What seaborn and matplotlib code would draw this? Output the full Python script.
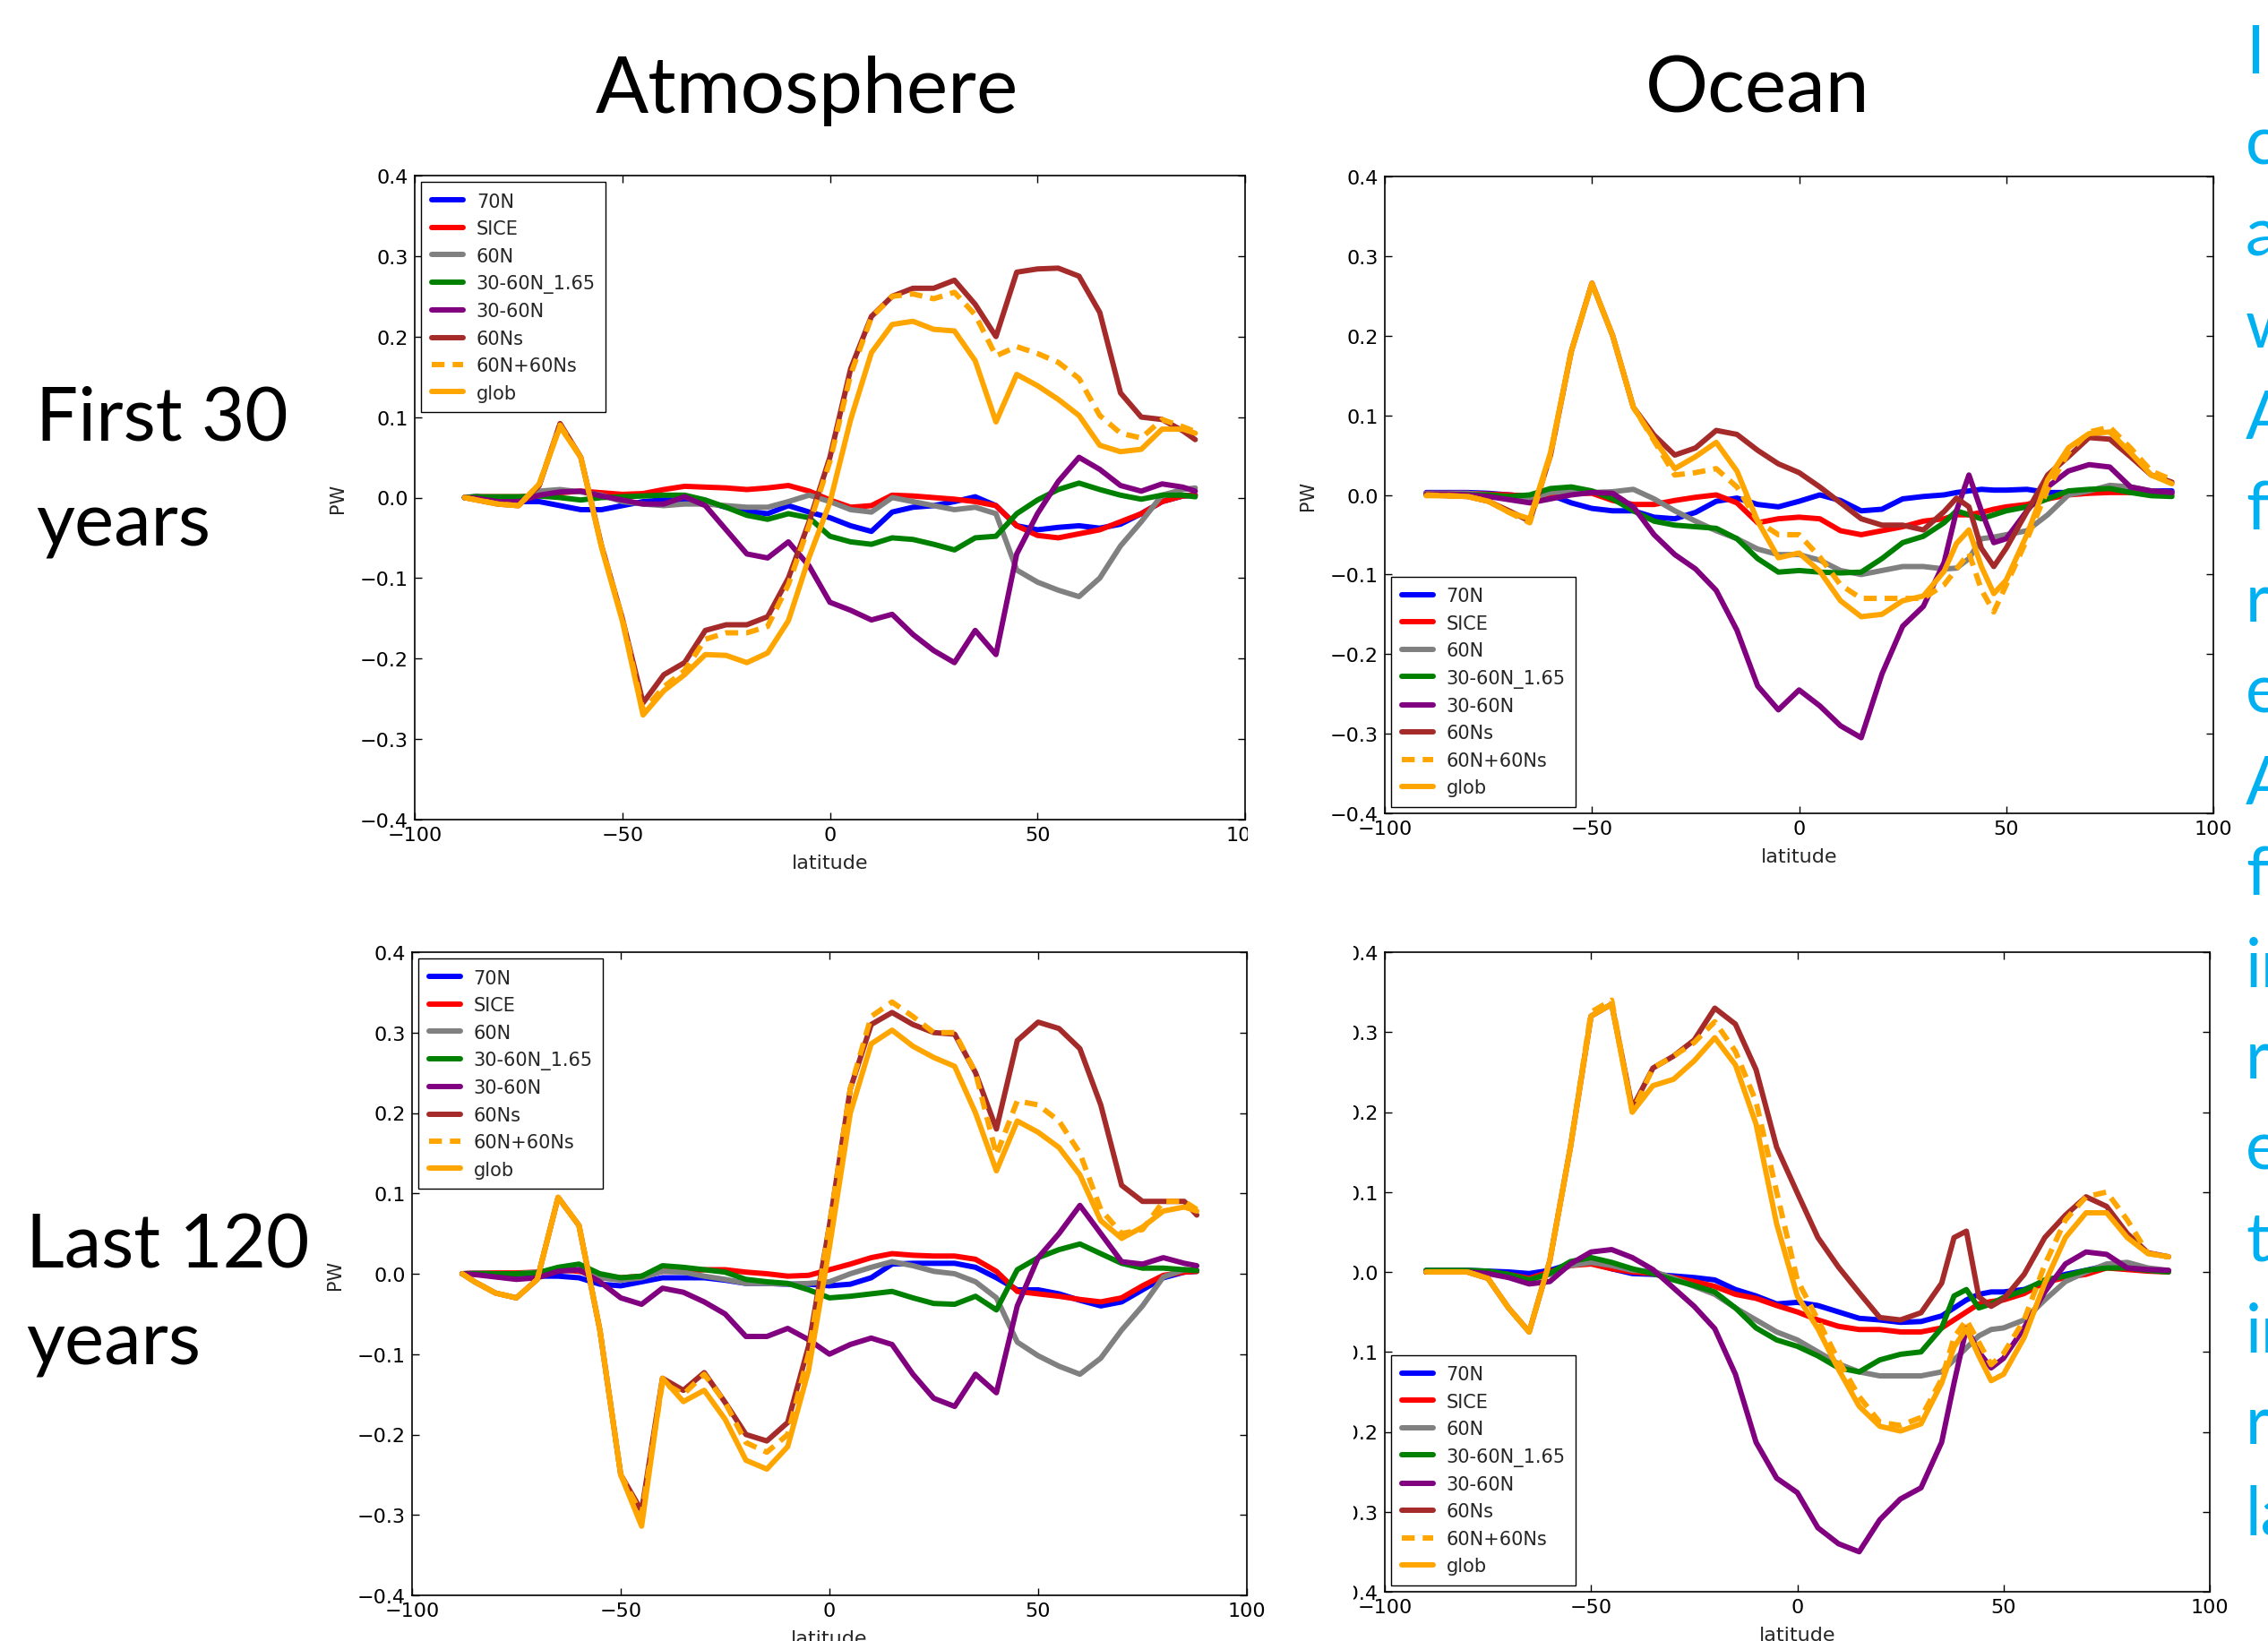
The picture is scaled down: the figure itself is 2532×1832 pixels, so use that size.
import matplotlib.pyplot as plt
from matplotlib.patches import Rectangle
import pandas as pd
import seaborn as sns

# Latitude grids (degrees)
atm_lat = [-88, -85, -80, -75, -70, -65, -60, -55, -50, -45,
           -40, -35, -30, -25, -20, -15, -10, -5, 0, 5,
           10, 15, 20, 25, 30, 35, 40, 45, 50, 55,
           60, 65, 70, 75, 80, 85, 88]
ocn_lat = [-90, -85, -80, -75, -70, -65, -60, -55, -50, -45,
           -40, -35, -30, -25, -20, -15, -10, -5, 0, 5,
           10, 15, 20, 25, 30, 35, 38, 41, 44, 47,
           50, 55, 60, 65, 70, 75, 80, 85, 90]

run_names = ["70N", "SICE", "60N", "30-60N_1.65", "30-60N", "60Ns", "60N+60Ns", "glob"]
run_colors = ["blue", "red", "gray", "green", "purple", "brown", "orange", "orange"]

# ---- Atmosphere, first 30 years (PW)
a1_70N = [0.0, 0.001, -0.003, -0.005, -0.005, -0.01, -0.015, -0.015, -0.01, -0.005,
          -0.003, -0.003, -0.005, -0.012, -0.017, -0.02, -0.01, -0.018, -0.025, -0.035,
          -0.042, -0.018, -0.012, -0.01, -0.005, 0.001, -0.01, -0.035, -0.04, -0.037,
          -0.035, -0.038, -0.033, -0.02, -0.005, 0.002, 0.003]
a1_SICE = [0.0, 0.001, 0.001, 0.001, 0.002, 0.006, 0.008, 0.006, 0.004, 0.005,
           0.01, 0.014, 0.013, 0.012, 0.01, 0.012, 0.015, 0.008, -0.003, -0.012,
           -0.01, 0.003, 0.002, 0.0, -0.002, -0.005, -0.01, -0.035, -0.047, -0.05,
           -0.045, -0.04, -0.03, -0.02, -0.005, 0.002, 0.003]
a1_60N = [0.0, 0.002, -0.005, -0.007, 0.008, 0.01, 0.007, 0.003, -0.005, -0.008,
          -0.01, -0.008, -0.008, -0.01, -0.012, -0.012, -0.005, 0.003, -0.005, -0.015,
          -0.018, 0.0, -0.005, -0.01, -0.015, -0.012, -0.02, -0.09, -0.105, -0.115,
          -0.123, -0.1, -0.06, -0.03, 0.003, 0.01, 0.012]
a1_3060_165 = [0.0, 0.001, 0.001, 0.001, 0.002, 0.0, -0.003, 0.0, 0.001, 0.002,
               0.003, 0.003, -0.003, -0.012, -0.022, -0.027, -0.02, -0.025, -0.048, -0.055,
               -0.058, -0.05, -0.052, -0.058, -0.065, -0.05, -0.048, -0.02, -0.003, 0.01,
               0.018, 0.01, 0.003, -0.002, 0.003, 0.003, 0.001]
a1_3060 = [0.0, -0.001, -0.005, -0.005, 0.003, 0.007, 0.008, 0.002, -0.003, -0.008,
           -0.008, 0.001, -0.01, -0.04, -0.07, -0.075, -0.055, -0.085, -0.13, -0.14,
           -0.152, -0.145, -0.17, -0.19, -0.205, -0.165, -0.195, -0.07, -0.02, 0.02,
           0.05, 0.035, 0.015, 0.008, 0.017, 0.013, 0.008]
a1_60Ns = [0.0, -0.003, -0.008, -0.01, 0.015, 0.092, 0.05, -0.06, -0.15, -0.255,
           -0.22, -0.205, -0.165, -0.158, -0.158, -0.148, -0.1, -0.03, 0.05, 0.16,
           0.225, 0.25, 0.26, 0.26, 0.27, 0.24, 0.2, 0.28, 0.284, 0.285,
           0.275, 0.23, 0.13, 0.1, 0.097, 0.083, 0.072]
a1_sum = [0.0, -0.003, -0.008, -0.01, 0.017, 0.09, 0.05, -0.06, -0.15, -0.265,
          -0.235, -0.215, -0.176, -0.168, -0.168, -0.16, -0.108, -0.034, 0.045, 0.153,
          0.224, 0.25, 0.253, 0.247, 0.255, 0.227, 0.176, 0.1875, 0.179, 0.168,
          0.148, 0.102, 0.08, 0.074, 0.097, 0.088, 0.082]
a1_glob = [0.0, -0.003, -0.008, -0.01, 0.017, 0.088, 0.05, -0.062, -0.153, -0.27,
           -0.24, -0.22, -0.195, -0.196, -0.205, -0.193, -0.153, -0.074, -0.006, 0.097,
           0.18, 0.215, 0.219, 0.209, 0.207, 0.17, 0.094, 0.153, 0.139, 0.122,
           0.102, 0.065, 0.057, 0.06, 0.085, 0.085, 0.08]

# ---- Ocean, first 30 years (PW)
o1_70N = [0.003, 0.003, 0.003, 0.002, 0.0, -0.002, 0.0, -0.01, -0.017, -0.02,
          -0.02, -0.028, -0.03, -0.022, -0.008, -0.004, -0.012, -0.015, -0.008, 0.0,
          -0.007, -0.02, -0.018, -0.005, -0.002, 0.0, 0.003, 0.005, 0.007, 0.006,
          0.006, 0.007, 0.003, 0.003, 0.005, 0.005, 0.005, 0.005, 0.005]
o1_SICE = [0.002, 0.002, 0.002, 0.001, 0.0, -0.002, 0.0, 0.002, 0.002, -0.007,
           -0.012, -0.012, -0.007, -0.003, 0.0, -0.01, -0.035, -0.03, -0.028, -0.03,
           -0.045, -0.05, -0.045, -0.04, -0.033, -0.03, -0.025, -0.025, -0.022, -0.018,
           -0.015, -0.012, -0.005, 0.0, 0.002, 0.003, 0.003, 0.002, 0.001]
o1_60N = [0.002, 0.002, 0.002, 0.0, -0.003, -0.005, 0.003, 0.005, 0.003, 0.004,
          0.007, -0.005, -0.02, -0.033, -0.045, -0.055, -0.068, -0.075, -0.075, -0.082,
          -0.095, -0.1, -0.095, -0.09, -0.09, -0.093, -0.092, -0.08, -0.055, -0.053,
          -0.05, -0.045, -0.025, 0.0, 0.005, 0.012, 0.01, 0.005, 0.003]
o1_3060_165 = [0.0, 0.0, 0.0, 0.0, -0.002, 0.0, 0.008, 0.01, 0.005, -0.005,
               -0.02, -0.033, -0.038, -0.04, -0.042, -0.055, -0.08, -0.097, -0.095, -0.097,
               -0.098, -0.097, -0.08, -0.06, -0.052, -0.035, -0.02, -0.025, -0.03, -0.025,
               -0.02, -0.015, -0.005, 0.005, 0.007, 0.008, 0.003, -0.001, -0.002]
o1_3060 = [0.001, 0.001, 0.0, -0.002, -0.006, -0.01, -0.005, 0.0, 0.003, 0.002,
           -0.015, -0.05, -0.075, -0.093, -0.12, -0.17, -0.24, -0.27, -0.245, -0.265,
           -0.29, -0.305, -0.225, -0.165, -0.14, -0.085, -0.02, 0.025, -0.02, -0.06,
           -0.055, -0.02, 0.01, 0.03, 0.038, 0.035, 0.01, 0.005, 0.003]
o1_60Ns = [0.0, -0.001, -0.002, -0.008, -0.02, -0.033, 0.05, 0.18, 0.266, 0.2,
           0.11, 0.075, 0.05, 0.059, 0.081, 0.076, 0.056, 0.039, 0.028, 0.01,
           -0.01, -0.03, -0.038, -0.038, -0.044, -0.021, -0.004, -0.015, -0.067, -0.09,
           -0.067, -0.021, 0.025, 0.048, 0.072, 0.07, 0.048, 0.025, 0.016]
o1_sum = [0.0, -0.001, -0.002, -0.008, -0.022, -0.035, 0.05, 0.18, 0.265, 0.2,
          0.11, 0.068, 0.025, 0.028, 0.033, 0.01, -0.033, -0.05, -0.05, -0.078,
          -0.113, -0.13, -0.13, -0.13, -0.13, -0.113, -0.093, -0.073, -0.119, -0.147,
          -0.113, -0.056, 0.007, 0.053, 0.079, 0.085, 0.059, 0.03, 0.019]
o1_glob = [-0.001, -0.001, -0.002, -0.008, -0.022, -0.03, 0.053, 0.18, 0.266, 0.2,
           0.11, 0.07, 0.033, 0.048, 0.066, 0.03, -0.033, -0.079, -0.073, -0.096,
           -0.133, -0.153, -0.15, -0.133, -0.127, -0.096, -0.061, -0.044, -0.09, -0.124,
           -0.107, -0.05, 0.019, 0.059, 0.077, 0.079, 0.053, 0.025, 0.014]

# ---- Atmosphere, last 120 years (PW)
a2_70N = [0.0, 0.0, 0.0, -0.002, -0.003, -0.003, -0.005, -0.013, -0.015, -0.01,
          -0.005, -0.005, -0.005, -0.008, -0.012, -0.012, -0.013, -0.013, -0.015, -0.013,
          -0.005, 0.012, 0.013, 0.013, 0.013, 0.008, -0.005, -0.02, -0.02, -0.025,
          -0.033, -0.04, -0.035, -0.02, -0.005, 0.002, 0.003]
a2_SICE = [0.0, 0.001, 0.001, 0.001, 0.002, 0.005, 0.003, -0.003, -0.005, -0.003,
           0.003, 0.003, 0.005, 0.005, 0.002, 0.0, -0.003, -0.002, 0.005, 0.012,
           0.02, 0.025, 0.023, 0.022, 0.022, 0.018, 0.003, -0.022, -0.025, -0.028,
           -0.032, -0.035, -0.03, -0.015, -0.002, 0.002, 0.003]
a2_60N = [0.0, 0.001, 0.0, 0.0, 0.002, 0.005, 0.005, -0.005, -0.008, -0.005,
          0.003, 0.002, -0.003, -0.007, -0.012, -0.012, -0.013, -0.012, -0.01, 0.0,
          0.008, 0.015, 0.01, 0.003, 0.0, -0.01, -0.03, -0.085, -0.102, -0.115,
          -0.125, -0.105, -0.07, -0.04, -0.004, 0.005, 0.005]
a2_3060_165 = [0.0, 0.0, 0.0, 0.0, 0.001, 0.008, 0.012, 0.0, -0.005, -0.003,
               0.01, 0.008, 0.005, 0.002, -0.007, -0.01, -0.012, -0.02, -0.03, -0.028,
               -0.025, -0.022, -0.03, -0.037, -0.038, -0.028, -0.045, 0.005, 0.02, 0.03,
               0.037, 0.025, 0.013, 0.007, 0.007, 0.005, 0.004]
a2_3060 = [0.0, -0.001, -0.004, -0.007, -0.005, 0.003, 0.005, -0.01, -0.03, -0.038,
           -0.018, -0.023, -0.035, -0.05, -0.078, -0.078, -0.068, -0.082, -0.1, -0.088,
           -0.08, -0.088, -0.125, -0.155, -0.165, -0.125, -0.148, -0.04, 0.02, 0.05,
           0.085, 0.05, 0.015, 0.012, 0.02, 0.013, 0.01]
a2_60Ns = [0.0, -0.01, -0.024, -0.03, -0.007, 0.095, 0.06, -0.07, -0.25, -0.295,
           -0.13, -0.145, -0.123, -0.16, -0.2, -0.208, -0.185, -0.09, 0.06, 0.23,
           0.31, 0.325, 0.31, 0.3, 0.298, 0.25, 0.18, 0.29, 0.313, 0.305,
           0.28, 0.21, 0.11, 0.09, 0.09, 0.09, 0.073]
a2_sum = [0.0, -0.01, -0.024, -0.03, -0.007, 0.095, 0.06, -0.07, -0.25, -0.3,
          -0.135, -0.15, -0.125, -0.16, -0.21, -0.222, -0.2, -0.1, 0.06, 0.23,
          0.32, 0.338, 0.32, 0.3, 0.3, 0.25, 0.148, 0.215, 0.21, 0.19,
          0.15, 0.08, 0.05, 0.055, 0.09, 0.09, 0.08]
a2_glob = [0.0, -0.01, -0.024, -0.03, -0.007, 0.095, 0.06, -0.07, -0.25, -0.314,
           -0.13, -0.159, -0.145, -0.181, -0.232, -0.243, -0.215, -0.12, 0.033, 0.2,
           0.286, 0.303, 0.283, 0.269, 0.258, 0.2, 0.128, 0.19, 0.176, 0.157,
           0.123, 0.066, 0.044, 0.058, 0.078, 0.083, 0.078]

# ---- Ocean, last 120 years (PW)
o2_70N = [0.002, 0.002, 0.002, 0.001, 0.0, -0.002, 0.002, 0.01, 0.012, 0.004,
          -0.002, -0.003, -0.005, -0.007, -0.01, -0.022, -0.03, -0.04, -0.038, -0.042,
          -0.05, -0.058, -0.06, -0.063, -0.062, -0.055, -0.045, -0.035, -0.028, -0.025,
          -0.025, -0.022, -0.012, -0.003, 0.002, 0.008, 0.005, 0.002, 0.001]
o2_SICE = [0.0, 0.0, 0.0, 0.0, -0.003, -0.008, 0.0, 0.008, 0.01, 0.004,
           0.0, -0.002, -0.007, -0.012, -0.018, -0.028, -0.033, -0.042, -0.05, -0.06,
           -0.068, -0.072, -0.072, -0.075, -0.075, -0.07, -0.06, -0.05, -0.04, -0.037,
           -0.035, -0.027, -0.013, -0.007, -0.003, 0.005, 0.003, 0.001, 0.0]
o2_60N = [0.001, 0.001, 0.001, 0.0, -0.005, -0.01, -0.003, 0.008, 0.012, 0.008,
          0.002, 0.001, -0.008, -0.018, -0.028, -0.045, -0.06, -0.075, -0.085, -0.1,
          -0.115, -0.125, -0.13, -0.13, -0.13, -0.125, -0.11, -0.095, -0.08, -0.072,
          -0.07, -0.06, -0.035, -0.012, 0.0, 0.01, 0.012, 0.005, 0.002]
o2_3060_165 = [0.002, 0.002, 0.002, 0.001, -0.003, -0.01, -0.002, 0.013, 0.018, 0.012,
               0.004, -0.002, -0.01, -0.017, -0.025, -0.045, -0.07, -0.085, -0.093, -0.105,
               -0.12, -0.125, -0.11, -0.103, -0.1, -0.07, -0.03, -0.022, -0.045, -0.04,
               -0.032, -0.023, -0.01, -0.005, 0.002, 0.005, 0.005, 0.002, 0.0]
o2_3060 = [0.0, 0.0, 0.0, -0.002, -0.007, -0.015, -0.012, 0.01, 0.025, 0.028,
           0.018, 0.003, -0.02, -0.043, -0.071, -0.128, -0.213, -0.258, -0.276, -0.32,
           -0.34, -0.35, -0.31, -0.284, -0.27, -0.213, -0.139, -0.07, -0.1, -0.12,
           -0.108, -0.07, -0.025, 0.01, 0.025, 0.022, 0.005, 0.003, 0.002]
o2_60Ns = [0.0, 0.0, 0.0, -0.008, -0.045, -0.075, 0.014, 0.156, 0.32, 0.335,
           0.205, 0.255, 0.27, 0.29, 0.33, 0.31, 0.253, 0.156, 0.099, 0.043,
           0.006, -0.026, -0.057, -0.06, -0.051, -0.014, 0.043, 0.051, -0.031, -0.043,
           -0.034, -0.003, 0.043, 0.071, 0.094, 0.082, 0.048, 0.024, 0.019]
o2_sum = [0.0, 0.0, 0.0, -0.008, -0.045, -0.075, 0.014, 0.156, 0.325, 0.34,
          0.2, 0.255, 0.27, 0.287, 0.313, 0.276, 0.213, 0.1, -0.01, -0.06,
          -0.111, -0.156, -0.188, -0.192, -0.182, -0.134, -0.082, -0.06, -0.088, -0.116,
          -0.102, -0.06, 0.009, 0.065, 0.094, 0.1, 0.065, 0.023, 0.019]
o2_glob = [0.0, 0.0, 0.0, -0.008, -0.045, -0.075, 0.014, 0.156, 0.32, 0.335,
           0.2, 0.233, 0.241, 0.264, 0.293, 0.259, 0.185, 0.06, -0.03, -0.071,
           -0.122, -0.168, -0.193, -0.199, -0.19, -0.139, -0.094, -0.071, -0.105, -0.136,
           -0.128, -0.082, -0.014, 0.043, 0.074, 0.074, 0.043, 0.023, 0.019]

col_titles = ["Atmosphere", "Ocean"]
row_labels = [["First 30", "years"], ["Last 120", "years"]]
side_text = ["In", "co", "a", "w", "A", "fa", "r", "e", "A", "fo",
             "in", "r", "e", "t", "in", "r", "la"]

sns.set_theme(style="white")
plt.rcParams["font.family"] = ["DejaVu Sans"]
plt.rcParams["axes.edgecolor"] = "black"
plt.rcParams["axes.linewidth"] = 1.2

W, H = 2532, 1833
fig = plt.figure(figsize=(W / 100, H / 100), dpi=100)


def px_axes(left, top, right, bottom):
    return fig.add_axes([left / W, 1 - bottom / H, (right - left) / W, (bottom - top) / H])


def draw_panel(ax, lat, series, legend_loc, ylabel="PW"):
    df = pd.DataFrame({"lat": lat})
    for name, vals, col in zip(run_names, series, run_colors):
        df[name] = vals
        ls = (0, (2.4, 1.5)) if name == "60N+60Ns" else "-"
        sns.lineplot(data=df, x="lat", y=name, ax=ax, color=col, lw=4.3,
                     linestyle=ls, label=name)
    ax.set_xlim(-100, 100)
    ax.set_ylim(-0.4, 0.4)
    ax.set_xticks([-100, -50, 0, 50, 100])
    ax.set_yticks([-0.4, -0.3, -0.2, -0.1, 0.0, 0.1, 0.2, 0.3, 0.4])
    ax.tick_params(direction="in", top=True, right=True, bottom=True, left=True,
                   length=6, width=1, labelsize=16, pad=5, colors="black")
    ax.set_xlabel("latitude", fontsize=16, labelpad=8)
    ax.set_ylabel(ylabel, fontsize=15, labelpad=11)
    ax.legend(loc=legend_loc, fontsize=15, frameon=True, fancybox=False,
              edgecolor="black", framealpha=1, handlelength=1.7, handletextpad=0.7,
              labelspacing=0.5, borderaxespad=0.35, borderpad=0.55)


ax_tl = px_axes(463, 197, 1390, 916)
ax_tr = px_axes(1546, 198, 2471, 909)
ax_bl = px_axes(460, 1064, 1392, 1782)
ax_br = px_axes(1546, 1064, 2467, 1778)

draw_panel(ax_tl, atm_lat, [a1_70N, a1_SICE, a1_60N, a1_3060_165, a1_3060, a1_60Ns, a1_sum, a1_glob], "upper left")
draw_panel(ax_tr, ocn_lat, [o1_70N, o1_SICE, o1_60N, o1_3060_165, o1_3060, o1_60Ns, o1_sum, o1_glob], "lower left")
draw_panel(ax_bl, atm_lat, [a2_70N, a2_SICE, a2_60N, a2_3060_165, a2_3060, a2_60Ns, a2_sum, a2_glob], "upper left")
draw_panel(ax_br, ocn_lat, [o2_70N, o2_SICE, o2_60N, o2_3060_165, o2_3060, o2_60Ns, o2_sum, o2_glob], "lower left", ylabel="")

# slide crops: hide the cut-off parts of the pasted charts
fig.add_artist(Rectangle((1420 / W, 1 - 1795 / H), (1511 - 1420) / W, (1795 - 1045) / H,
                         transform=fig.transFigure, facecolor="white", edgecolor="none", zorder=10))
fig.add_artist(Rectangle((1393 / W, 1 - 960 / H), (1440 - 1393) / W, (960 - 918) / H,
                         transform=fig.transFigure, facecolor="white", edgecolor="none", zorder=10))

# column titles
for title, xc in zip(col_titles, [901, 1962]):
    fig.text(xc / W, 1 - 126 / H, title, ha="center", va="baseline",
             fontsize=63, family=["Lato", "DejaVu Sans"], color="black")

# row labels
for lines, x0, baselines in zip(row_labels, [40, 29], [[492, 609], [1416, 1523]]):
    for line, yb in zip(lines, baselines):
        fig.text(x0 / W, 1 - yb / H, line, ha="left", va="baseline",
                 fontsize=60, family=["Lato", "DejaVu Sans"], color="black")

# cut-off cyan side text
for i, line in enumerate(side_text):
    fig.text(2507 / W, 1 - (82 + 102 * i) / H, line, ha="left", va="baseline",
             fontsize=54, family=["Lato", "DejaVu Sans"], color="#00B0F0")

fig.savefig("out.png", dpi=100)
